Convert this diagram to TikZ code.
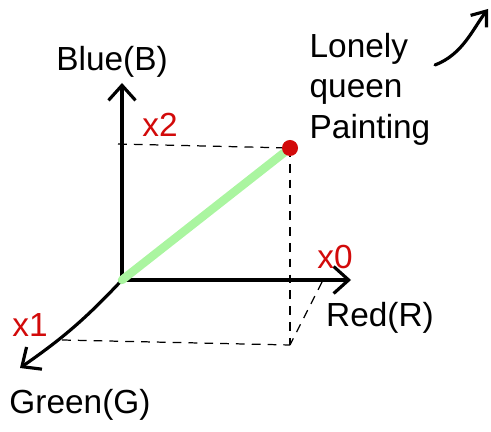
\documentclass[tikz,border=0pt]{standalone}
\usepackage{fontspec}
\setmainfont{Liberation Sans}
\usepackage{xcolor}
\usepackage{tikz}
\usetikzlibrary{arrows.meta, positioning, calc}
\definecolor{penred}{RGB}{210, 10, 10}
\definecolor{palegreen}{RGB}{170, 245, 160}

\begin{document}
\begin{tikzpicture}[
    axis/.style={line width=1.8pt, line cap=round,
                 -{Straight Barb[length=3mm, width=5.4mm, line width=1.8pt]}},
    guide/.style={dashed, line width=0.7pt, dash pattern=on 5pt off 4pt},
    vec/.style={line width=4.8pt, line cap=round, color=palegreen},
    lbl/.style={font=\fontsize{19}{23}\selectfont, inner sep=1pt},
    comp/.style={font=\fontsize{19}{23}\selectfont, color=penred, inner sep=1pt},
]
    \useasboundingbox (0,0) rectangle (9.82,8.64);

    \coordinate (O) at (2.44,3.04);
    \coordinate (B) at (2.44,6.98);
    \coordinate (R) at (7.02,3.04);
    \coordinate (G) at (0.40,1.28);
    \coordinate (P) at (5.80,5.68);
    \coordinate (ptop) at (2.36,5.76);
    \coordinate (pfoot) at (5.80,1.74);
    \coordinate (gfoot) at (1.24,1.84);
    \coordinate (rfoot) at (6.44,3.00);

    % colour space axes
    \draw[axis] (O) -- (B);
    \draw[axis] (O) -- (R);
    \draw[axis] (O) to[bend left=6] (G);

    % projections of the point
    \draw[guide] (ptop) -- (P);
    \draw[guide] (P) -- (pfoot);
    \draw[guide] (gfoot) -- (pfoot);
    \draw[guide] (rfoot) -- (pfoot);

    \draw[vec] (O) -- ($(P)!0.16cm!(O)$);
    \node[circle, fill=penred, inner sep=0pt, minimum size=0.32cm] (dot) at (P) {};

    \node[lbl] (blue) at (2.24,7.40) {Blue(B)};
    \node[lbl] (red) at (7.60,2.28) {Red(R)};
    \node[lbl] (green) at (1.60,0.54) {Green(G)};

    \node[comp] (x2) at (3.20,6.14) {x2};
    \node[comp] (x0) at (6.70,3.50) {x0};
    \node[comp] (x1) at (0.60,2.14) {x1};

    \node[lbl, align=left] (title) at (7.40,6.86)
        {Lonely\\queen\\Painting};

    \coordinate (tail) at (8.70,7.34);
    \coordinate (head) at (9.76,8.46);
    \draw[line width=1.8pt, line cap=round,
          -{Straight Barb[length=2.6mm, width=4mm, line width=1.8pt]}]
        (tail) .. controls (9.25,7.55) and (9.45,8.05) .. (head);
\end{tikzpicture}
\end{document}
